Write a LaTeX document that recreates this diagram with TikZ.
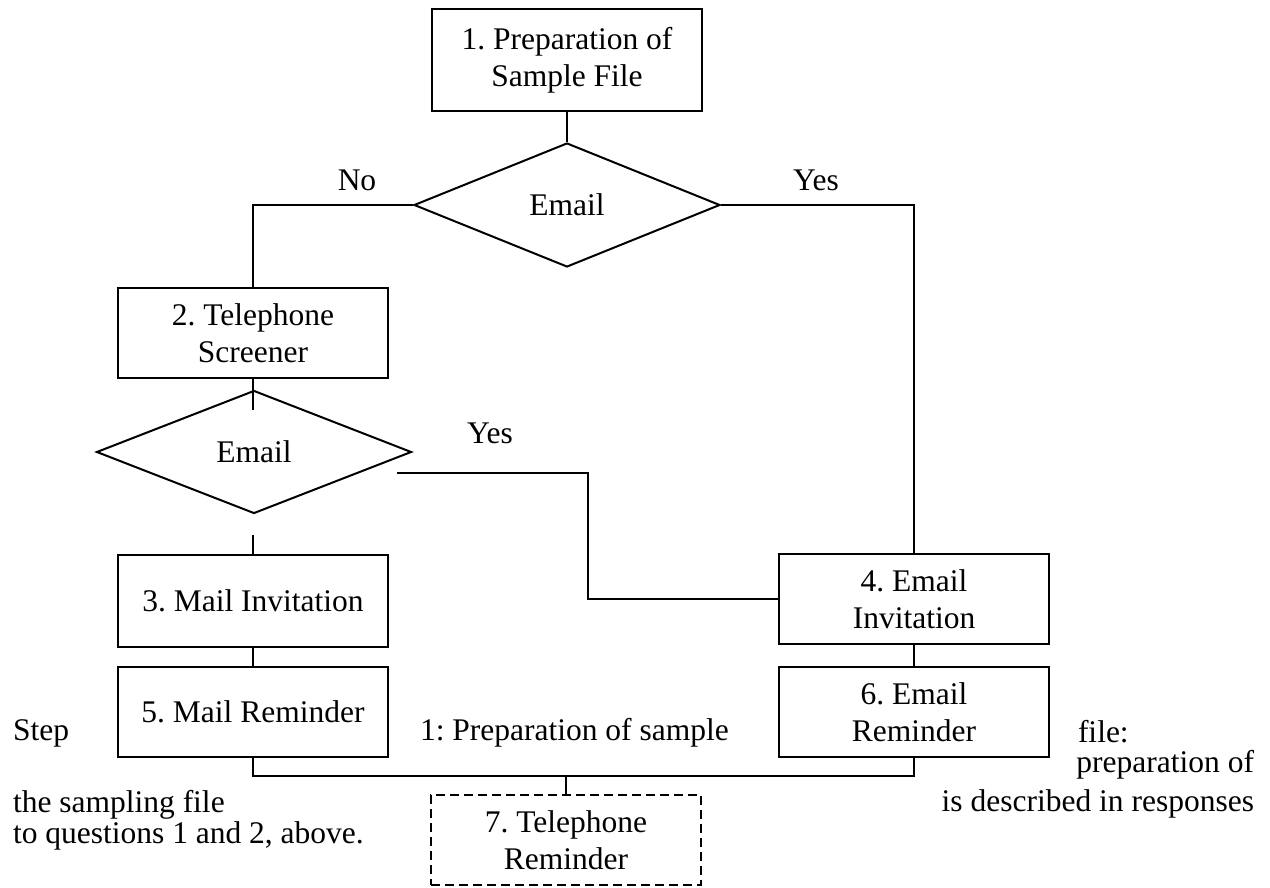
\documentclass[tikz,border=0pt]{standalone}
\usepackage{fontspec}
\setmainfont{Liberation Serif}
\usetikzlibrary{shapes.geometric, positioning}
\frenchspacing

\begin{document}
\begin{tikzpicture}[x=1pt, y=-1pt, line width=2pt,
    font=\fontsize{31.5}{37}\selectfont,
    box/.style={draw, rectangle, align=center, inner sep=0pt,
                minimum width=270pt, minimum height=90pt},
    decision/.style={draw, diamond, inner sep=0pt},
    note/.style={inner sep=0pt}]
  \useasboundingbox (0,0) rectangle (1270,888);

  \node[box, minimum height=102pt]                          (prep)     at (567,60)  {1. Preparation of\\Sample File};
  \node[decision, minimum width=306pt, minimum height=124pt] (ask1)     at (567,205) {Email};
  \node[box]                                                (screen)   at (253,333) {2. Telephone\\Screener};
  \node[decision, minimum width=315pt, minimum height=123pt] (ask2)     at (254,452) {Email};
  \node[box, minimum height=92pt]                           (mailinv)  at (253,601) {3. Mail Invitation};
  \node[box]                                                (emailinv) at (914,599) {4. Email\\Invitation};
  \node[box]                                                (mailrem)  at (253,712) {5. Mail Reminder};
  \node[box]                                                (emailrem) at (914,712) {6. Email\\Reminder};
  \node[box, dashed, dash pattern=on 9pt off 5pt]           (telrem)   at (566,840) {7. Telephone\\Reminder};

  \coordinate (stub)     at (253,410);
  \coordinate (gapend)   at (253,535);
  \coordinate (yesstart) at (397,473);
  \coordinate (jog)      at (588,473);
  \coordinate (merge)    at (566,776);

  % 1 -> first Email question
  \draw (prep.south) -- (ask1.north);
  % No -> 2
  \draw (ask1.west) -| (screen.north);
  % Yes -> 4
  \draw (ask1.east) -| (emailinv.north);
  % 2 -> second Email question
  \draw (screen.south) -- (stub);
  % second question -> 3 (broken line)
  \draw (gapend) -- (mailinv.north);
  % Yes -> 4
  \draw (yesstart) -- (jog) |- (emailinv.west);
  % 3 -> 5, 4 -> 6
  \draw (mailinv.south) -- (mailrem.north);
  \draw (emailinv.south) -- (emailrem.north);
  % 5, 6 -> 7
  \draw (mailrem.south) |- (merge) -| (emailrem.south);
  \draw (merge) -- (telrem.north);

  \node[note, anchor=base] (no1)  at (357,191) {No};
  \node[note, anchor=base] (yes1) at (816,191) {Yes};
  \node[note, anchor=base] (yes2) at (490,443) {Yes};

  \node[note, anchor=base west] (txtstep)  at (12,740)   {Step};
  \node[note, anchor=base west] (txtprep)  at (419,740)  {1: Preparation of sample};
  \node[note, anchor=base west] (txtfile)  at (1077,742) {file:};
  \node[note, anchor=base east] (txtprep2) at (1255,772) {preparation of};
  \node[note, anchor=base west] (txtsamp)  at (12,812)   {the sampling file};
  \node[note, anchor=base east] (txtdesc)  at (1255,811) {is described in responses};
  \node[note, anchor=base west] (txtquest) at (12,843)   {to questions 1 and 2, above.};
\end{tikzpicture}
\end{document}
